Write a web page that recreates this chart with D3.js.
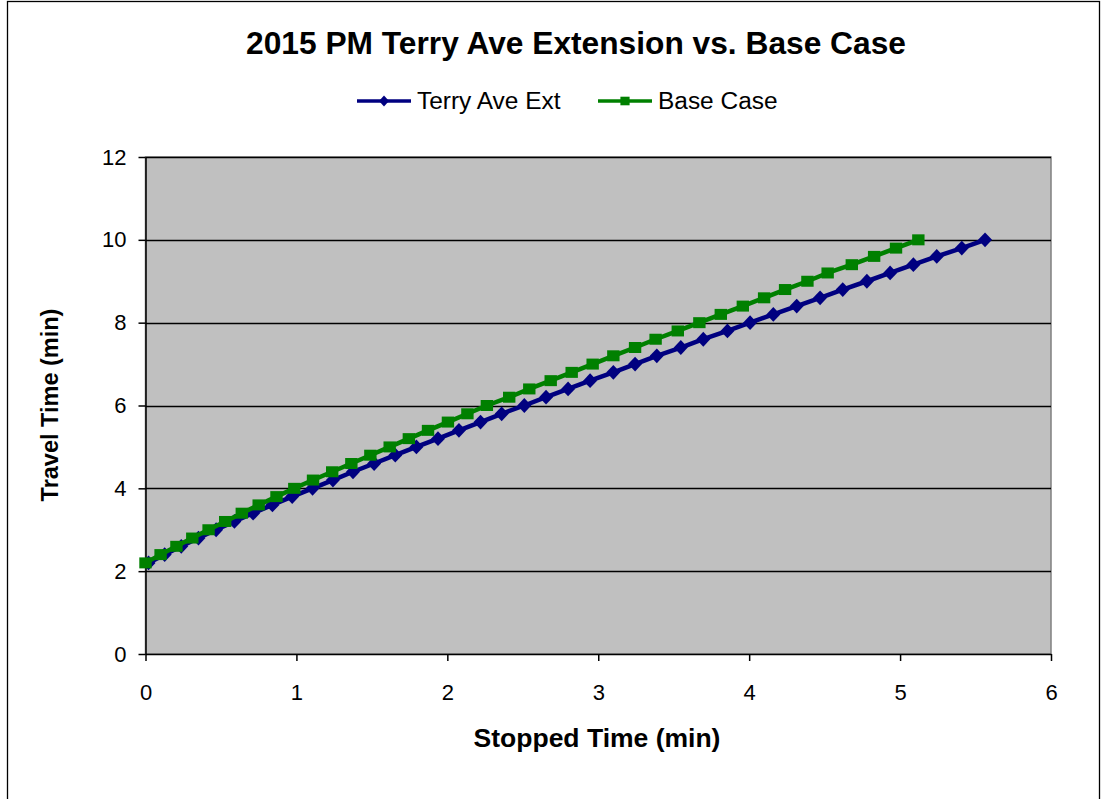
<!DOCTYPE html>
<html>
<head>
<meta charset="utf-8">
<script src="https://cdn.jsdelivr.net/npm/d3@7"></script>
<style>
  html, body { margin: 0; padding: 0; background: #ffffff; }
  svg { display: block; font-family: "Liberation Sans", Arial, sans-serif; }
</style>
</head>
<body>
<svg id="chart" width="1108" height="799"></svg>
<script>
// Travel time points (min), shared by both series
const travelTimes = [2.2, 2.4, 2.6, 2.8, 3.0, 3.2, 3.4, 3.6, 3.8, 4.0,
  4.2, 4.4, 4.6, 4.8, 5.0, 5.2, 5.4, 5.6, 5.8, 6.0,
  6.2, 6.4, 6.6, 6.8, 7.0, 7.2, 7.4, 7.6, 7.8, 8.0,
  8.2, 8.4, 8.6, 8.8, 9.0, 9.2, 9.4, 9.6, 9.8, 10.0];

// Stopped time (min) for the Terry Ave Extension scenario
const terryStopped = [0.02, 0.127, 0.237, 0.351, 0.468, 0.589, 0.713, 0.841, 0.972, 1.107,
  1.242, 1.375, 1.515, 1.655, 1.795, 1.938, 2.077, 2.22, 2.36, 2.51,
  2.654, 2.80, 2.946, 3.10, 3.244, 3.388, 3.547, 3.696, 3.856, 4.006,
  4.16, 4.315, 4.47, 4.62, 4.78, 4.934, 5.088, 5.243, 5.409, 5.563];

// Stopped time (min) for the Base Case scenario
const baseStopped = [0.0, 0.10, 0.205, 0.31, 0.418, 0.528, 0.638, 0.75, 0.868, 0.986,
  1.11, 1.237, 1.364, 1.49, 1.618, 1.745, 1.872, 2.004, 2.133, 2.262,
  2.41, 2.543, 2.685, 2.824, 2.963, 3.10, 3.244, 3.38, 3.527, 3.67,
  3.812, 3.958, 4.099, 4.238, 4.386, 4.52, 4.68, 4.828, 4.973, 5.121];

const xTicks = [0, 1, 2, 3, 4, 5, 6];
const yTicks = [0, 2, 4, 6, 8, 10, 12];

const seriesNames = ["Terry Ave Ext", "Base Case"];
const seriesColors = ["#000080", "#008000"];

// Marker shapes: a wide rhombus and a slightly flattened square
const diamond = (hw, hh) => ({
  draw(ctx) {
    ctx.moveTo(0, -hh); ctx.lineTo(hw, 0); ctx.lineTo(0, hh); ctx.lineTo(-hw, 0); ctx.closePath();
  }
});
const box = (hw, hh) => ({
  draw(ctx) { ctx.rect(-hw, -hh, 2 * hw, 2 * hh); }
});
const plotShapes = [diamond(7, 7.4), box(6.2, 5.5)];
const legendShapes = [diamond(5, 5.5), box(4.6, 4.3)];

const svg = d3.select("#chart");
const stretch = 1.04;

// Outer chart frame
svg.append("rect")
  .attr("x", 7.5).attr("y", 1.5)
  .attr("width", 1092).attr("height", 820)
  .attr("fill", "#ffffff")
  .attr("stroke", "#000000").attr("stroke-width", 1.3);

const plot = { left: 145.5, right: 1051, top: 157, bottom: 654 };

const x = d3.scaleLinear().domain([0, 6]).range([plot.left, plot.right]);
const y = d3.scaleLinear().domain([0, 12]).range([plot.bottom, plot.top]);

// Plot background
svg.append("rect")
  .attr("x", plot.left).attr("y", plot.top)
  .attr("width", plot.right - plot.left).attr("height", plot.bottom - plot.top)
  .attr("fill", "#c0c0c0")
  .attr("stroke", "#808080").attr("stroke-width", 1.5);

// Horizontal gridlines
svg.append("g")
  .selectAll("line")
  .data(yTicks.filter(t => t > 0))
  .join("line")
  .attr("x1", plot.left).attr("x2", plot.right)
  .attr("y1", d => Math.round(y(d)) + 0.5).attr("y2", d => Math.round(y(d)) + 0.5)
  .attr("stroke", "#000000").attr("stroke-width", 1.4);

// Axes
const xAxis = d3.axisBottom(x).tickValues(xTicks).tickFormat(d3.format("d"))
  .tickSizeInner(7).tickSizeOuter(0).tickPadding(32);
const yAxis = d3.axisLeft(y).tickValues(yTicks).tickFormat(d3.format("d"))
  .tickSizeInner(7).tickSizeOuter(0).tickPadding(12);

const gx = svg.append("g").attr("transform", `translate(0,${plot.bottom})`).call(xAxis);
const gy = svg.append("g").attr("transform", `translate(${plot.left},0)`).call(yAxis);

[gx, gy].forEach(g => {
  g.select(".domain").attr("stroke", "#000000").attr("stroke-width", 1.5);
  g.selectAll(".tick line").attr("stroke", "#000000").attr("stroke-width", 1.5);
  g.selectAll(".tick text")
    .attr("fill", "#000000")
    .style("font-size", "22px")
    .style("font-family", "'Liberation Sans', Arial, sans-serif");
});
gx.selectAll(".tick text").attr("dy", "0.3em");

// Series
const series = [terryStopped, baseStopped].map((xs, i) => ({
  name: seriesNames[i],
  color: seriesColors[i],
  shape: plotShapes[i],
  points: xs.map((v, j) => ({ x: v, y: travelTimes[j] }))
}));

const line = d3.line().x(d => x(d.x)).y(d => y(d.y));

series.forEach(s => {
  const g = svg.append("g");
  g.append("path")
    .datum(s.points)
    .attr("d", line)
    .attr("fill", "none")
    .attr("stroke", s.color)
    .attr("stroke-width", 4.5)
    .attr("stroke-linejoin", "round");
  g.selectAll("path.marker")
    .data(s.points)
    .join("path")
    .attr("class", "marker")
    .attr("transform", d => `translate(${x(d.x)},${y(d.y)})`)
    .attr("d", d3.symbol().type(s.shape))
    .attr("fill", s.color);
});

// Horizontal text with a slight horizontal stretch
function label(cx, cy, txt, size, bold, anchor) {
  svg.append("g")
    .attr("transform", `translate(${cx},${cy}) scale(${stretch},1)`)
    .append("text")
    .attr("text-anchor", anchor || "middle")
    .style("font-size", size + "px")
    .style("font-weight", bold ? "bold" : "normal")
    .attr("fill", "#000000")
    .text(txt);
}

// Title
label(576, 54, "2015 PM Terry Ave Extension vs. Base Case", 30.5, true);

// Legend
const legendItems = [
  { x: 357, name: seriesNames[0], color: seriesColors[0], shape: legendShapes[0] },
  { x: 598, name: seriesNames[1], color: seriesColors[1], shape: legendShapes[1] }
];
legendItems.forEach(it => {
  const g = svg.append("g").attr("transform", `translate(${it.x},101)`);
  g.append("line").attr("x1", 0).attr("x2", 54).attr("y1", 0).attr("y2", 0)
    .attr("stroke", it.color).attr("stroke-width", 3.5);
  g.append("path").attr("transform", "translate(27,0)")
    .attr("d", d3.symbol().type(it.shape)).attr("fill", it.color);
  label(it.x + 60, 109, it.name, 23.5, false, "start");
});

// Axis titles
label(597, 747, "Stopped Time (min)", 25.5, true);

svg.append("text")
  .attr("transform", "translate(58,405) rotate(-90)")
  .attr("text-anchor", "middle")
  .style("font-size", "23.5px").style("font-weight", "bold")
  .attr("fill", "#000000")
  .text("Travel Time (min)");
</script>
</body>
</html>
